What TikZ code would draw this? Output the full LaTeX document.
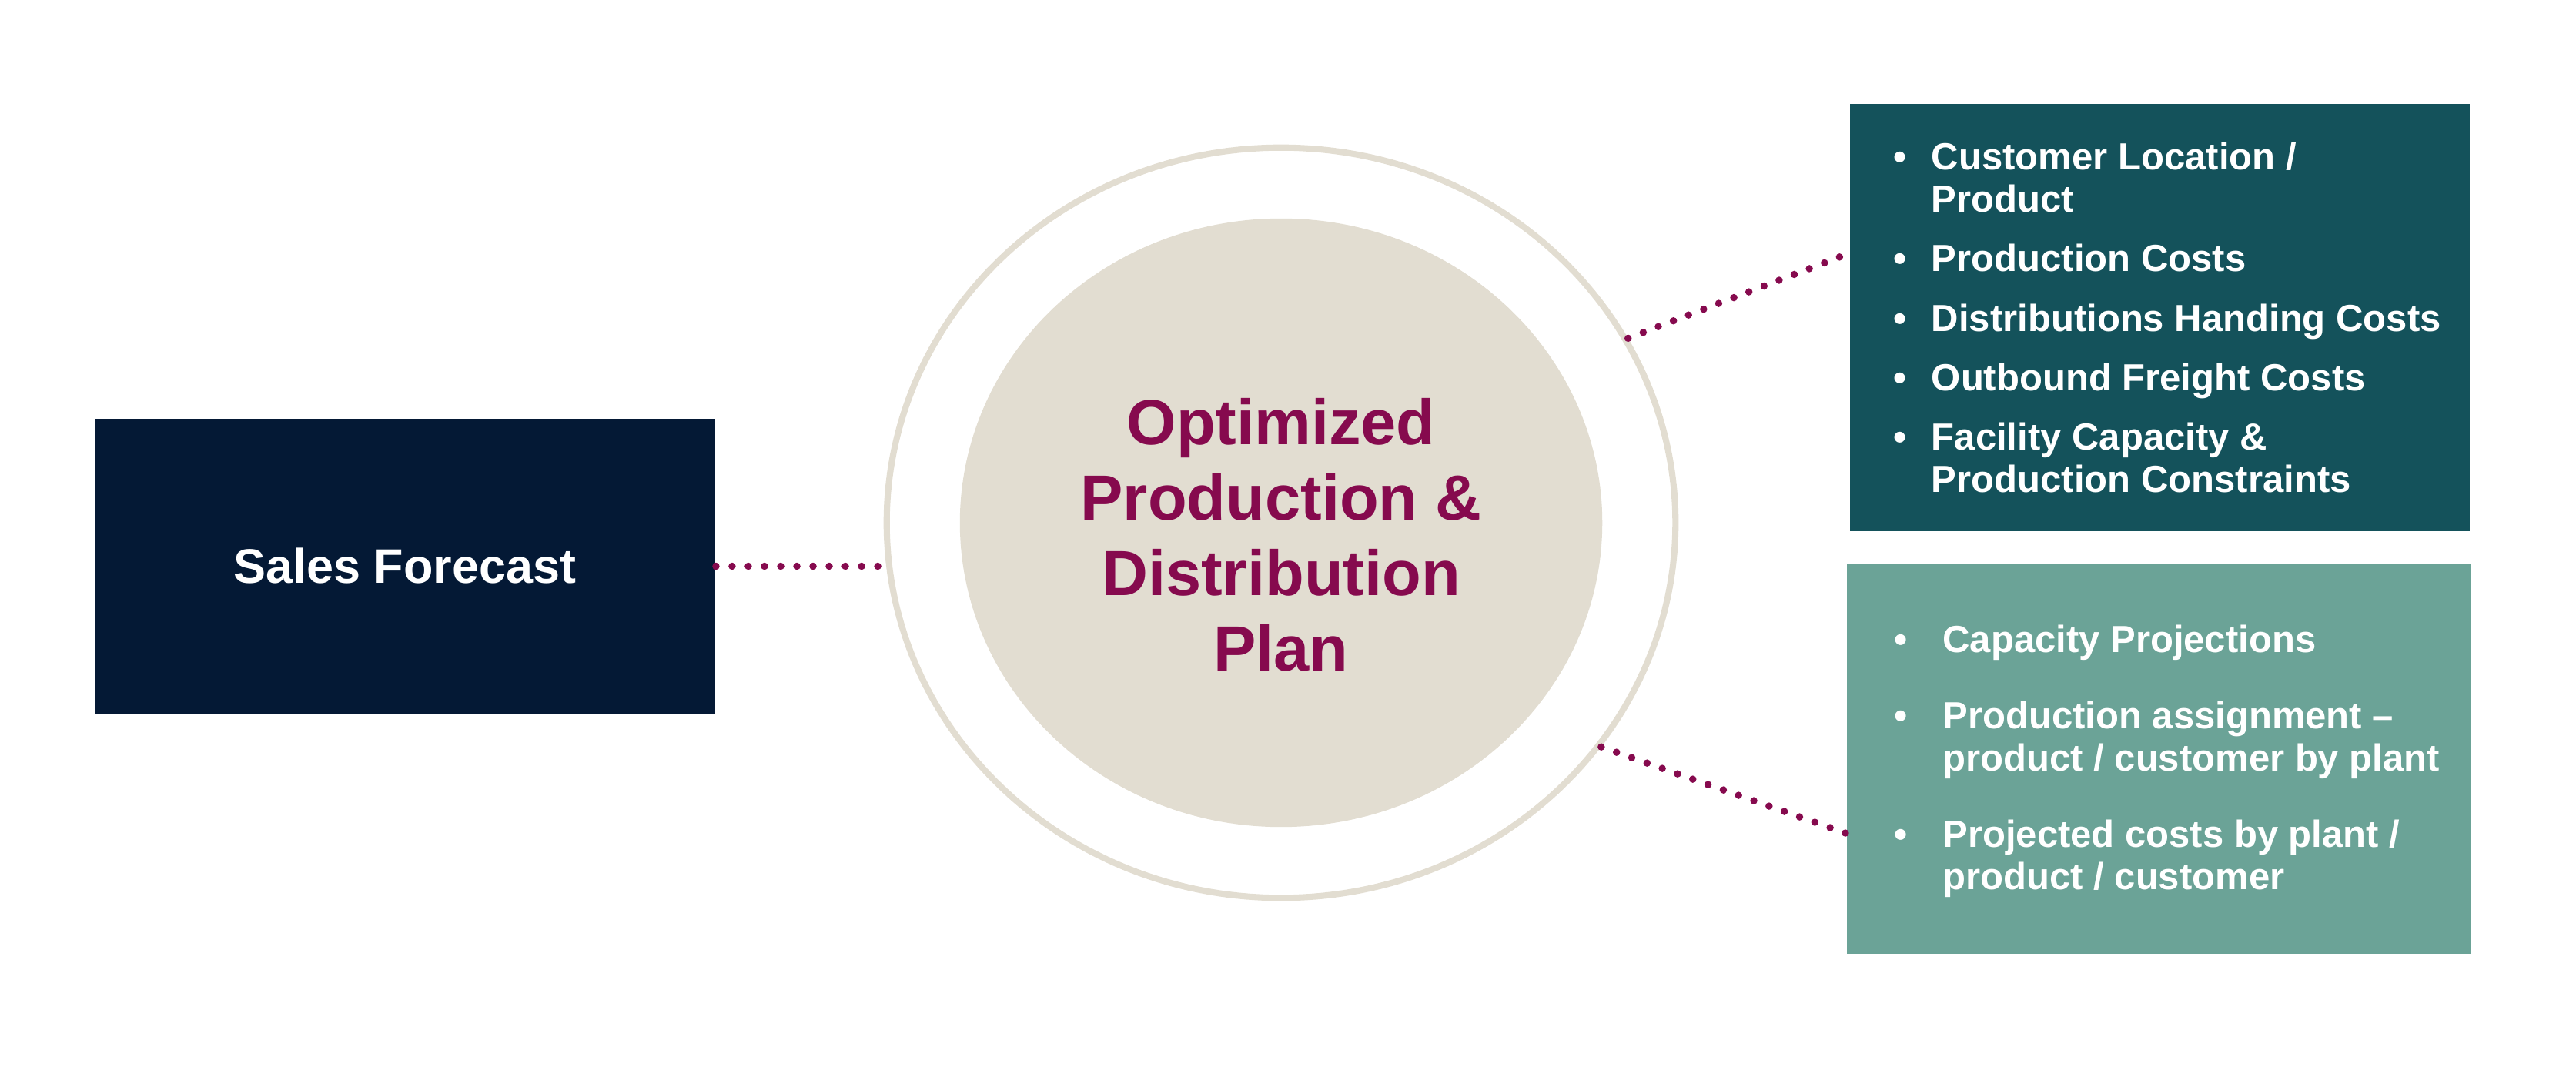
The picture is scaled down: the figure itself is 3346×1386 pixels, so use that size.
\documentclass[tikz,border=0pt]{standalone}
\usepackage{fontspec}
\setmainfont{Liberation Sans}
\usepackage{xcolor}
\usepackage{tikz}
\usetikzlibrary{calc,shapes.geometric}
\definecolor{AzulMarino}{RGB}{4,25,53}
\definecolor{VerdeOscuro}{RGB}{20,82,91}
\definecolor{VerdeClaro}{RGB}{107,163,151}
\definecolor{Granate}{RGB}{134,10,78}
\definecolor{BeigePlan}{RGB}{226,221,209}

\begin{document}
\begin{tikzpicture}[x=0.01cm,y=-0.01cm,
  caja/.style={rectangle,fill=#1,inner sep=0pt,text=white},
  lista/.style={anchor=north west,inner sep=0pt,text=white,
    font=\fontsize{13.94}{15.65}\selectfont\bfseries},
  puntos/.style={Granate,line width=2.7pt,line cap=round,dash pattern=on 0pt off 0.21cm}]
  \useasboundingbox (0,0) rectangle (3346,1386);
  \node[caja=AzulMarino,minimum width=8.06cm,minimum height=3.83cm,
    font=\fontsize{17.9}{21}\selectfont\bfseries] (ventas) at (526,735.5) {Sales Forecast};
  \node[ellipse,draw=BeigePlan,line width=2.3pt,inner sep=0pt,
    minimum width=10.24cm,minimum height=9.74cm] (anillo) at (1664,679) {};
  \node[ellipse,fill=BeigePlan,inner sep=0pt,
    minimum width=8.34cm,minimum height=7.9cm] (nucleo) at (1664,679) {};
  \node[align=center,text=Granate,inner sep=0pt,
    font=\fontsize{23.6}{27.9}\selectfont\bfseries] (plan) at (1664,695)
    {Optimized\\Production \&\\Distribution\\Plan};
  \node[caja=VerdeOscuro,minimum width=8.05cm,minimum height=5.55cm] (costos) at (2805.5,412.5) {};
  \node[caja=VerdeClaro,minimum width=8.10cm,minimum height=5.06cm] (salidas) at (2804,986) {};
  \node[lista] (listaCostos) at (2458.5,181.5) {%
    \begin{tabular}{@{}l@{\hspace{9.25pt}}l@{}}
      \textbullet & Customer Location /\\
                  & Product\\[6.3pt]
      \textbullet & Production Costs\\[6.3pt]
      \textbullet & Distributions Handing Costs\\[6.3pt]
      \textbullet & Outbound Freight Costs\\[6.3pt]
      \textbullet & Facility Capacity \&\\
                  & Production Constraints
    \end{tabular}};
  \node[lista] (listaSalidas) at (2459.5,808.5) {%
    \begin{tabular}{@{}l@{\hspace{13.1pt}}l@{}}
      \textbullet & Capacity Projections\\[12.5pt]
      \textbullet & Production assignment –\\
                  & product / customer by plant\\[12.5pt]
      \textbullet & Projected costs by plant /\\
                  & product / customer
    \end{tabular}};
  \coordinate (entradaAnillo) at (ventas.east -| anillo.west);
  \coordinate (entradaCostos) at ($(costos.north west)!0.35!(costos.south west)$);
  \coordinate (entradaSalidas) at ($(salidas.north west)!0.69!(salidas.south west)$);
  \draw[puntos] (ventas.east) -- (entradaAnillo);
  \draw[puntos] (anillo.28) -- (entradaCostos);
  \draw[puntos] (anillo.325) -- (entradaSalidas);
\end{tikzpicture}
\end{document}
